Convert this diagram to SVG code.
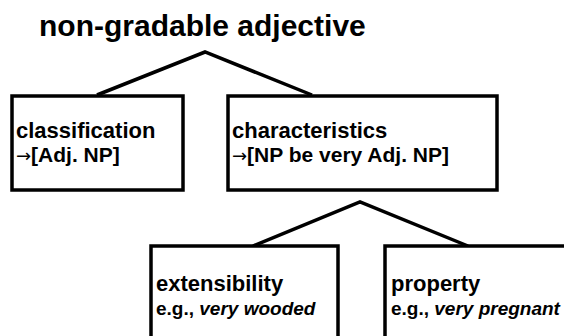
<svg xmlns="http://www.w3.org/2000/svg" width="564" height="336" viewBox="0 0 564 336">
<style>
.box{fill:#fff;stroke:#000;stroke-width:3.5}
.ln{fill:none;stroke:#000;stroke-width:3.5;stroke-linejoin:miter}
text{font-family:"Liberation Sans",Arial,sans-serif;fill:#000;font-weight:bold}
.t{font-size:30px}
.h{font-size:22px}
.r{font-size:21px}
.s{font-size:19px}
.i{font-style:italic}
.a{font-family:"DejaVu Sans",sans-serif;font-weight:normal;font-size:18px}
</style>
<rect width="564" height="336" fill="#fff"/>
<g id="connectors">
<polyline class="ln" points="97,95 205,52 312,95"/>
<polyline class="ln" points="253,246 360,202 468,246"/>
</g>
<g id="root"><text class="t" x="39" y="36">non-gradable adjective</text></g>
<g id="classification">
<rect class="box" x="12" y="96" width="171" height="94"/>
<text class="h" x="16" y="137.5">classification</text>
<text class="r" x="16" y="162"><tspan class="a">→</tspan>[Adj. NP]</text>
</g>
<g id="characteristics">
<rect class="box" x="228" y="96" width="269" height="94"/>
<text class="h" x="232" y="137.5">characteristics</text>
<text class="r" x="232" y="162"><tspan class="a">→</tspan>[NP be very Adj. NP]</text>
</g>
<g id="extensibility">
<rect class="box" x="151" y="246" width="187" height="110"/>
<text class="h" x="156" y="291">extensibility</text>
<text class="s" x="156" y="315">e.g., <tspan class="i">very wooded</tspan></text>
</g>
<g id="property">
<rect class="box" x="385" y="246" width="220" height="110"/>
<text class="h" x="391" y="291">property</text>
<text class="s" x="391" y="315">e.g., <tspan class="i">very pregnant</tspan></text>
</g>
</svg>
